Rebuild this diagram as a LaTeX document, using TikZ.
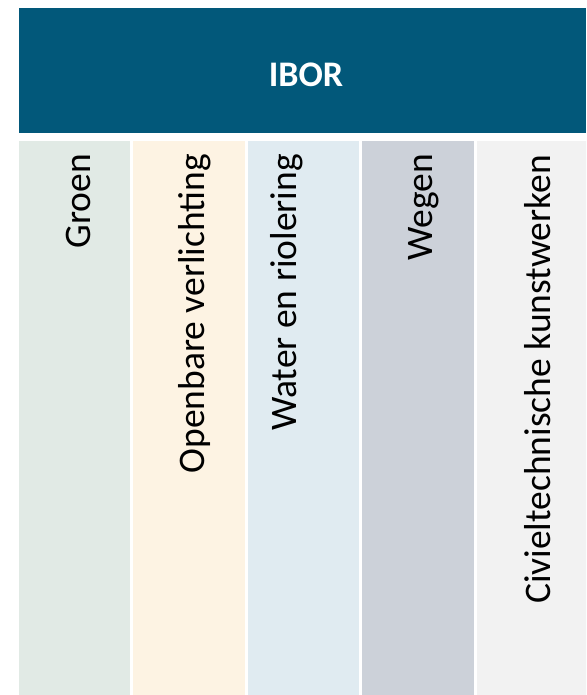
\documentclass[tikz,border=0pt]{standalone}
\usepackage{fontspec}
\setmainfont{Carlito}
\definecolor{banner}{RGB}{2,88,122}
\definecolor{cgroen}{RGB}{225,234,229}
\definecolor{clicht}{RGB}{253,243,227}
\definecolor{cwater}{RGB}{224,235,241}
\definecolor{cwegen}{RGB}{204,209,217}
\definecolor{ckunst}{RGB}{242,242,242}
\begin{document}
\begin{tikzpicture}[x=1pt,y=-1pt,
  colbox/.style={rectangle,inner sep=0pt,outer sep=0pt,anchor=north west,
    minimum width=111.3pt,minimum height=554.3pt},
  coltext/.style={rotate=90,anchor=base east,inner sep=0pt,
    font=\fontsize{37.5}{45}\selectfont,text=black}]
\useasboundingbox (0,0) rectangle (586,695);
\node[rectangle,inner sep=0pt,outer sep=0pt,anchor=north west,fill=banner,
  minimum width=567pt,minimum height=125pt] (banner) at (19,8.3) {};
\node[anchor=base,inner sep=0pt,text=white,font=\fontsize{36}{43}\selectfont\bfseries]
  (ibor) at (306,86.7) {IBOR};
\begin{scope}
\clip (0,0) rectangle (586,695);
\node[colbox,fill=cgroen] (c1) at (19,140.7) {};
\node[colbox,fill=clicht] (c2) at (133.4,140.7) {};
\node[colbox,fill=cwater] (c3) at (247.8,140.7) {};
\node[colbox,fill=cwegen] (c4) at (362.2,140.7) {};
\node[colbox,fill=ckunst] (c5) at (476.6,140.7) {};
\end{scope}
\node[coltext] (t1) at (90,154) {Groen};
\node[coltext] (t2) at (204.5,154) {Openbare verlichting};
\node[coltext] (t3) at (296.5,154) {Water en riolering};
\node[coltext] (t4) at (432,154) {Wegen};
\node[coltext] (t5) at (550.5,155) {Civieltechnische kunstwerken};
\end{tikzpicture}
\end{document}
